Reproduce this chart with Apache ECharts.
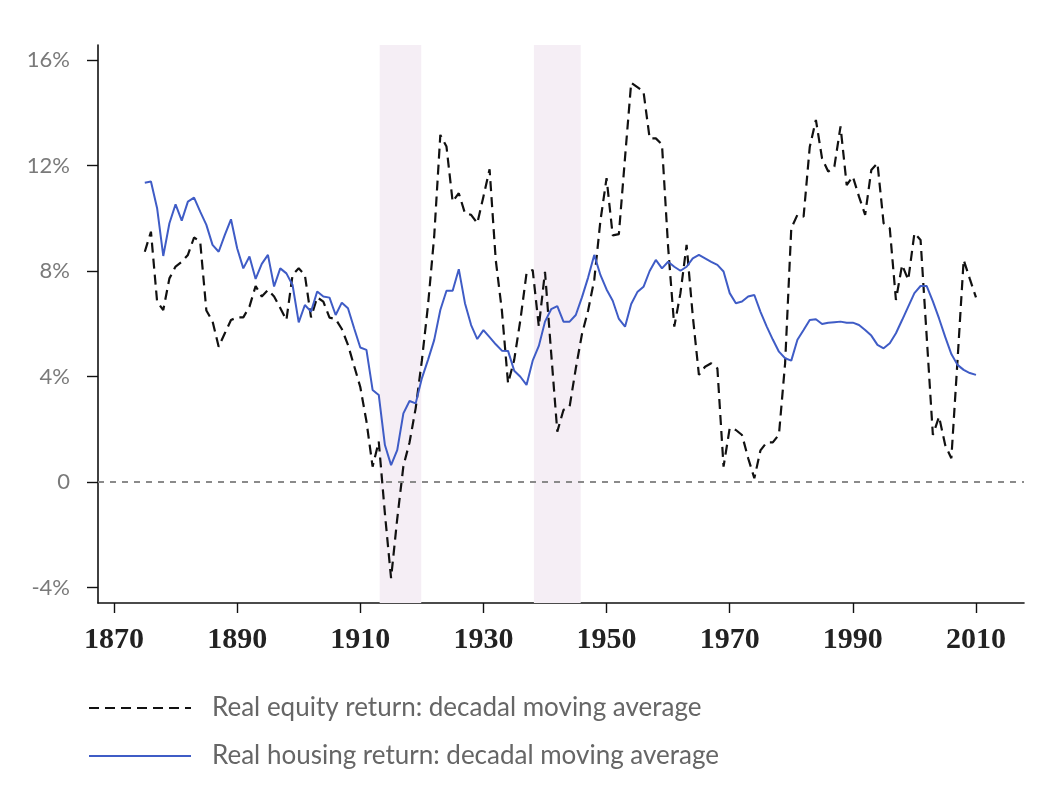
<!DOCTYPE html>
<html>
<head>
<meta charset="utf-8">
<script src="https://cdn.jsdelivr.net/npm/echarts@6/dist/echarts.min.js"></script>
<style>
  html, body { margin: 0; padding: 0; background: #ffffff; }
  #chart { width: 1064px; height: 810px; }
</style>
</head>
<body>
<div id="chart"></div>
<script>
// ---- data ----
var firstYear = 1875;
var equityReturn = [
  8.73, 9.49, 6.84, 6.52, 7.72, 8.17, 8.35, 8.61, 9.27, 9.11,   // 1875-1884
  6.50, 6.10, 5.13, 5.64, 6.14, 6.24, 6.24, 6.65, 7.43, 7.03,   // 1885-1894
  7.28, 7.03, 6.60, 6.14, 7.85, 8.10, 7.85, 6.24, 7.00, 6.84,   // 1895-1904
  6.23, 6.18, 5.80, 5.20, 4.40, 3.60, 2.30, 0.58, 1.53, -1.20,  // 1905-1914
  -3.65, -1.40, 0.60, 1.50, 2.80, 4.60, 6.70, 9.30, 13.16, 12.72, // 1915-1924
  10.63, 10.95, 10.19, 10.13, 9.81, 10.82, 11.86, 8.42, 6.50, 3.74, // 1925-1934
  4.63, 6.14, 7.91, 8.04, 5.89, 7.97, 4.90, 1.91, 2.73, 2.86,   // 1935-1944
  4.30, 5.60, 6.50, 7.66, 9.90, 11.52, 9.35, 9.40, 12.30, 15.14, // 1945-1954
  14.97, 14.80, 13.03, 13.03, 12.80, 8.90, 5.89, 7.16, 8.99, 6.30, // 1955-1964
  4.06, 4.37, 4.50, 4.31, 0.58, 2.04, 1.97, 1.78, 0.90, 0.14,   // 1965-1974
  1.20, 1.50, 1.50, 1.80, 4.50, 9.62, 10.13, 10.06, 12.70, 13.73, // 1975-1984
  12.27, 11.77, 11.96, 13.48, 11.26, 11.58, 10.82, 10.13, 11.83, 12.09, // 1985-1994
  9.81, 9.62, 6.90, 8.23, 7.66, 9.43, 9.18, 5.50, 1.78, 2.48,   // 1995-2004
  1.40, 0.90, 4.60, 8.42, 7.70, 7.00                            // 2005-2010
];
var housingReturn = [
  11.35, 11.39, 10.38, 8.57, 9.81, 10.53, 9.91, 10.63, 10.78, 10.25, // 1875-1884
  9.75, 8.99, 8.73, 9.37, 9.96, 8.86, 8.10, 8.55, 7.70, 8.27,   // 1885-1894
  8.61, 7.41, 8.10, 7.91, 7.47, 6.05, 6.71, 6.46, 7.22, 7.03,   // 1895-1904
  6.99, 6.33, 6.80, 6.59, 5.83, 5.10, 5.01, 3.49, 3.30, 1.40,   // 1905-1914
  0.64, 1.21, 2.60, 3.07, 2.98, 3.93, 4.63, 5.38, 6.52, 7.25,   // 1915-1924
  7.25, 8.07, 6.78, 5.95, 5.42, 5.76, 5.49, 5.22, 4.98, 4.97,   // 1925-1934
  4.22, 3.99, 3.68, 4.60, 5.16, 6.08, 6.55, 6.67, 6.08, 6.08,   // 1935-1944
  6.33, 7.00, 7.75, 8.61, 7.85, 7.30, 6.87, 6.18, 5.89, 6.75,   // 1945-1954
  7.20, 7.40, 8.00, 8.42, 8.10, 8.35, 8.16, 8.01, 8.16, 8.48,   // 1955-1964
  8.61, 8.48, 8.35, 8.23, 7.98, 7.16, 6.78, 6.84, 7.03, 7.09,   // 1965-1974
  6.45, 5.90, 5.40, 4.94, 4.69, 4.60, 5.39, 5.76, 6.14, 6.17,   // 1975-1984
  5.99, 6.04, 6.06, 6.08, 6.04, 6.04, 5.95, 5.76, 5.55, 5.20,   // 1985-1994
  5.07, 5.26, 5.64, 6.14, 6.65, 7.16, 7.43, 7.43, 6.85, 6.20,   // 1995-2004
  5.50, 4.85, 4.44, 4.25, 4.13, 4.06                            // 2005-2010
];
var xTickLabels = [1870, 1890, 1910, 1930, 1950, 1970, 1990, 2010];
var yTickLabels = [-4, 0, 4, 8, 12, 16];
var warPeriods = [[1913.15, 1919.9], [1938.2, 1945.8]];
var seriesNames = ['Real equity return: decadal moving average', 'Real housing return: decadal moving average'];

// ---- build ----
function pairs(values) {
  var out = [];
  for (var i = 0; i < values.length; i++) out.push([firstYear + i, values[i]]);
  return out;
}

var chart = echarts.init(document.getElementById('chart'), null, { renderer: 'canvas' });
var sansFont = 'Lato';
var option = {
  backgroundColor: '#ffffff',
  animation: false,
  grid: { left: 98, right: 40, top: 45, bottom: 207, containLabel: false },
  legend: {
    data: seriesNames,
    orient: 'vertical',
    left: 88,
    top: 695,
    padding: 0,
    itemWidth: 102,
    itemHeight: 14,
    itemGap: 22,
    selectedMode: false,
    itemStyle: { opacity: 0 },
    textStyle: { fontFamily: sansFont, fontSize: 26, color: '#666666', padding: [0, 0, 0, 16] }
  },
  xAxis: {
    type: 'value',
    min: 1867.4,
    max: 2017.8,
    splitLine: { show: false },
    axisLine: { show: true, onZero: false, lineStyle: { color: '#111111', width: 1.6 } },
    axisTick: { show: true, customValues: xTickLabels, length: 10, lineStyle: { color: '#111111', width: 1.4 } },
    axisLabel: {
      customValues: xTickLabels,
      margin: 22,
      fontFamily: 'Liberation Serif',
      fontWeight: 'bold',
      fontSize: 30,
      color: '#222222',
      formatter: function (v) { return String(v); }
    }
  },
  yAxis: {
    type: 'value',
    min: -4.59,
    max: 16.57,
    splitLine: { show: false },
    axisLine: { show: true, onZero: false, lineStyle: { color: '#111111', width: 1.6 } },
    axisTick: { show: true, customValues: yTickLabels, length: 11, lineStyle: { color: '#111111', width: 1.4 } },
    axisLabel: {
      customValues: yTickLabels,
      margin: 28,
      fontFamily: sansFont,
      fontSize: 22,
      color: '#7a7a7a',
      formatter: function (v) { return v === 0 ? '0' : v + '%'; }
    }
  },
  series: [
    {
      name: 'bands',
      type: 'line',
      data: [],
      z: 1,
      silent: true,
      markArea: {
        silent: true,
        itemStyle: { color: '#f5eef5' },
        data: warPeriods.map(function (p) { return [{ xAxis: p[0] }, { xAxis: p[1] }]; })
      },
      markLine: {
        silent: true,
        symbol: 'none',
        label: { show: false },
        lineStyle: { color: '#8a8a8a', type: [6, 6], width: 2 },
        data: [{ yAxis: 0 }]
      }
    },
    {
      name: seriesNames[0],
      type: 'line',
      z: 3,
      data: pairs(equityReturn),
      symbol: 'none',
      color: '#111111',
      lineStyle: { color: '#111111', width: 2.2, type: [10, 6] }
    },
    {
      name: seriesNames[1],
      type: 'line',
      z: 4,
      data: pairs(housingReturn),
      symbol: 'none',
      color: '#3f5cc6',
      lineStyle: { color: '#3f5cc6', width: 2 }
    }
  ]
};
chart.setOption(option);
</script>
</body>
</html>
